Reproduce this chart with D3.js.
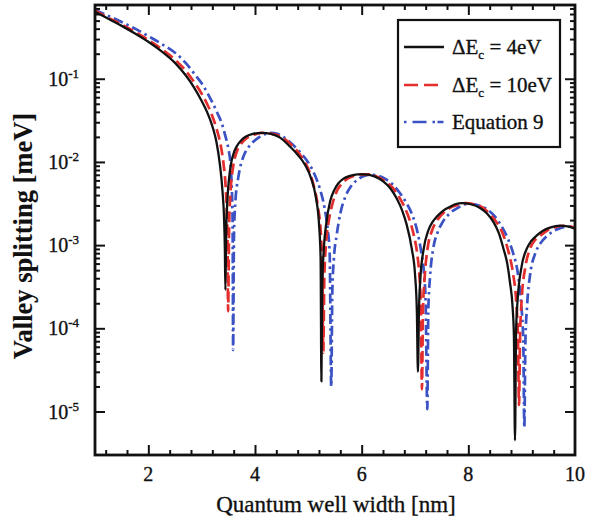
<!DOCTYPE html>
<html>
<head>
<meta charset="utf-8">
<script src="https://cdn.jsdelivr.net/npm/d3@7"></script>
<style>
  html, body { margin: 0; padding: 0; background: #fff; }
  svg { display: block; }
  text { font-family: "Liberation Serif", "Times New Roman", serif; fill: #111; stroke: #111; stroke-width: 0.35px; }
</style>
</head>
<body>
<svg id="chart" width="592" height="521"></svg>
<script>
// Quantum well width [nm] vs valley splitting [meV]
const seriesNames = ["ΔEc = 4eV", "ΔEc = 10eV", "Equation 9"];

const widthDE4 = [1.0,1.25,1.5,1.75,2.0,2.25,2.5,2.7,2.85,3.0,3.1,3.2,3.28,3.34,3.39,3.42,3.435,3.445,
  3.46,3.485,3.51,3.55,3.6,3.66,3.75,3.84,3.96,4.125,4.3,4.47,4.66,4.8,4.94,5.05,5.14,5.2,5.23,5.245,
  5.26,5.29,5.33,5.41,5.48,5.56,5.66,5.78,5.92,6.06,6.24,6.41,6.54,6.66,6.76,6.84,6.94,7.0,7.035,7.055,
  7.075,7.1,7.16,7.25,7.33,7.41,7.53,7.66,7.77,7.875,8.05,8.22,8.35,8.47,8.57,8.66,8.73,8.78,8.83,8.855,8.875,
  8.895,8.92,9.0,9.09,9.18,9.28,9.4,9.53,9.72,9.86,10.0];
const splitDE4 = [0.64,0.525,0.432,0.35,0.278,0.213,0.155,0.11,0.08,0.054,0.04,0.027,0.017,0.0095,0.0045,0.0021,0.0009,0.00029,
  0.0014,0.0037,0.006,0.0095,0.0127,0.0155,0.0184,0.0203,0.0217,0.0224,0.0218,0.0196,0.0152,0.0122,0.0092,0.0064,0.0038,0.0018,0.0007,0.000023,
  0.0003,0.0009,0.0017,0.0034,0.0045,0.0055,0.0063,0.0068,0.0071,0.0071,0.0067,0.0058,0.0048,0.0036,0.0026,0.0018,0.0009,0.00045,0.00016,0.00003,
  0.00017,0.00039,0.00088,0.0015,0.0019,0.0022,0.0026,0.0029,0.00312,0.0032,0.0031,0.0028,0.0024,0.0019,0.0014,0.0009,0.0006,0.00036,0.00018,0.00008,0.0000045,
  0.00009,0.0002,0.00056,0.00089,0.00112,0.0013,0.00149,0.00162,0.00172,0.00168,0.00158];

const widthDE10 = [1.0,1.25,1.5,1.75,2.0,2.25,2.5,2.7,2.875,3.0,3.1,3.19,3.28,3.36,3.41,3.45,3.47,3.485,3.495,
  3.515,3.54,3.59,3.65,3.72,3.83,3.94,4.125,4.3,4.47,4.62,4.78,4.9,5.0,5.1,5.18,5.24,5.26,5.28,
  5.3,5.33,5.38,5.45,5.53,5.62,5.72,5.85,6.0,6.12,6.28,6.45,6.58,6.7,6.8,6.9,6.98,7.04,7.08,7.11,7.13,
  7.15,7.18,7.24,7.32,7.42,7.55,7.7,7.85,7.95,8.1,8.28,8.42,8.55,8.66,8.76,8.84,8.9,8.93,8.95,
  8.97,9.0,9.07,9.15,9.25,9.35,9.48,9.62,9.78,9.9,10.0];
const splitDE10 = [0.66,0.54,0.448,0.365,0.292,0.228,0.17,0.125,0.088,0.066,0.05,0.037,0.025,0.0155,0.0095,0.005,0.0027,0.0011,0.00016,
  0.0017,0.0042,0.0088,0.0128,0.0158,0.019,0.0207,0.0223,0.0219,0.0203,0.0175,0.0138,0.0108,0.0082,0.0052,0.0029,0.0012,0.0006,0.000051,
  0.00042,0.001,0.0019,0.0031,0.0044,0.0054,0.0062,0.0068,0.0071,0.0071,0.0067,0.0058,0.0049,0.0038,0.0029,0.002,0.0013,0.0008,0.00045,0.00018,0.0000185,
  0.00017,0.0004,0.00095,0.0015,0.002,0.0025,0.0029,0.0031,0.0032,0.0031,0.0028,0.0023,0.0018,0.0013,0.0008,0.00045,0.0002,0.00008,0.000012,
  0.00008,0.00022,0.00055,0.00088,0.00115,0.0013,0.0015,0.00164,0.00171,0.00168,0.00162];

const widthEq9 = [1.0,1.25,1.5,1.75,2.0,2.25,2.5,2.7,2.875,3.0,3.19,3.3,3.375,3.44,3.5,3.54,3.565,3.58,3.59,
  3.605,3.63,3.69,3.78,3.86,3.94,4.06,4.18,4.3,4.42,4.55,4.7,4.84,5.0,5.12,5.22,5.3,5.36,5.4,5.43,
  5.45,5.48,5.53,5.6,5.7,5.8,5.92,6.05,6.19,6.32,6.45,6.6,6.72,6.84,6.95,7.05,7.12,7.17,7.2,7.23,
  7.25,7.28,7.34,7.42,7.52,7.65,7.8,7.95,8.05,8.2,8.35,8.5,8.62,8.74,8.84,8.93,8.99,9.03,9.05,
  9.07,9.1,9.16,9.25,9.35,9.48,9.6,9.72,9.84,10.0];
const splitEq9 = [0.67,0.57,0.48,0.40,0.325,0.262,0.205,0.155,0.112,0.088,0.0535,0.038,0.0294,0.021,0.0145,0.0095,0.0048,0.0019,0.000055,
  0.0012,0.0032,0.0067,0.0115,0.0145,0.0168,0.0195,0.0215,0.0224,0.0218,0.0196,0.0163,0.0132,0.0098,0.007,0.0047,0.0029,0.0016,0.0008,0.00002,
  0.00028,0.0007,0.0013,0.0024,0.0039,0.0051,0.0061,0.0068,0.007,0.0068,0.0062,0.0052,0.0042,0.0032,0.0023,0.0014,0.0008,0.00045,0.0002,0.0000107,
  0.00017,0.0004,0.0009,0.0014,0.0019,0.0024,0.0028,0.0031,0.00312,0.003,0.0027,0.0022,0.0017,0.0012,0.0008,0.00045,0.0002,0.00007,0.0000064,
  0.00007,0.00018,0.00045,0.00078,0.00105,0.0013,0.00148,0.0016,0.00167,0.00165];

const xTicks = [2, 4, 6, 8, 10];
const yTickExponents = [-5, -4, -3, -2, -1];

const svg = d3.select("#chart");
const plotLeft = 95, plotRight = 575, plotTop = 5, plotBottom = 455;

const x = d3.scaleLinear().domain([1, 10]).range([plotLeft, plotRight]);
const y = d3.scaleLog().domain([3e-6, 0.77]).range([plotBottom, plotTop]);

svg.append("defs").append("clipPath").attr("id", "plotClip")
  .append("rect").attr("x", plotLeft).attr("y", plotTop)
  .attr("width", plotRight - plotLeft).attr("height", plotBottom - plotTop);

// curves
const styles = [
  { color: "#111111", dash: null, width: 2.3 },
  { color: "#e42d2d", dash: "11,5", width: 2.7 },
  { color: "#3a52c4", dash: "10,4,2.5,4", width: 2.7 }
];
const datasets = [
  d3.zip(widthDE4, splitDE4),
  d3.zip(widthDE10, splitDE10),
  d3.zip(widthEq9, splitEq9)
];
const line = d3.line()
  .x(d => x(d[0]))
  .y(d => y(d[1]))
  .curve(d3.curveMonotoneX);

const plot = svg.append("g").attr("clip-path", "url(#plotClip)");
// Equation 9 first, then ΔEc = 10eV, then ΔEc = 4eV on top
[2, 1, 0].forEach(i => {
  plot.append("path")
    .datum(datasets[i])
    .attr("fill", "none")
    .attr("stroke", styles[i].color)
    .attr("stroke-width", styles[i].width)
    .attr("stroke-dasharray", styles[i].dash)
    .attr("stroke-linejoin", "round")
    .attr("d", line);
});

// ticks (inward, on all four sides)
const xMinor = d3.range(1.2, 10, 0.4).filter(v => Math.abs(v / 2 - Math.round(v / 2)) > 1e-6);
const yMajor = yTickExponents.map(e => Math.pow(10, e));
const yMinor = [];
for (let e = -5; e <= -1; e++) {
  for (let m = 2; m <= 9; m++) {
    const v = m * Math.pow(10, e);
    if (v <= 0.77) yMinor.push(v);
  }
}

function tickAxis(axisFn, scale, values, size, transform) {
  svg.append("g")
    .attr("transform", transform)
    .call(axisFn(scale).tickValues(values).tickSize(size).tickFormat(""))
    .call(g => g.select(".domain").remove())
    .call(g => g.selectAll("line").attr("stroke", "#111").attr("stroke-width", 2));
}
tickAxis(d3.axisBottom, x, xTicks.filter(v => v < 10), -10, `translate(0,${plotBottom})`);
tickAxis(d3.axisBottom, x, xMinor, -5, `translate(0,${plotBottom})`);
tickAxis(d3.axisTop, x, xTicks.filter(v => v < 10), -10, `translate(0,${plotTop})`);
tickAxis(d3.axisTop, x, xMinor, -5, `translate(0,${plotTop})`);
tickAxis(d3.axisLeft, y, yMajor, -10, `translate(${plotLeft},0)`);
tickAxis(d3.axisLeft, y, yMinor, -5, `translate(${plotLeft},0)`);
tickAxis(d3.axisRight, y, yMajor, -10, `translate(${plotRight},0)`);
tickAxis(d3.axisRight, y, yMinor, -5, `translate(${plotRight},0)`);

// frame
svg.append("rect")
  .attr("x", plotLeft).attr("y", plotTop)
  .attr("width", plotRight - plotLeft).attr("height", plotBottom - plotTop)
  .attr("fill", "none").attr("stroke", "#111").attr("stroke-width", 2.8);

// x tick labels
svg.append("g").selectAll("text").data(xTicks).join("text")
  .attr("x", d => x(d))
  .attr("y", 481)
  .attr("text-anchor", "middle")
  .style("font-size", "20px")
  .text(d => d);

// y tick labels: 10 with superscript exponent
const yl = svg.append("g").selectAll("text").data(yTickExponents).join("text")
  .attr("x", 79)
  .attr("y", d => y(Math.pow(10, d)) + 7)
  .attr("text-anchor", "end")
  .style("font-size", "20px");
yl.append("tspan").text("10");
yl.append("tspan").attr("dy", -8).style("font-size", "13px").text(d => "-" + Math.abs(d));

// axis titles
svg.append("text")
  .attr("x", 336)
  .attr("y", 512)
  .attr("text-anchor", "middle")
  .style("font-size", "23px")
  .text("Quantum well width [nm]");

svg.append("text")
  .attr("transform", "translate(32,236) rotate(-90)")
  .attr("text-anchor", "middle")
  .style("font-size", "26.5px")
  .style("font-weight", "bold")
  .style("stroke-width", "0.1px")
  .text("Valley splitting [meV]");

// legend
const legend = svg.append("g");
legend.append("rect")
  .attr("x", 398).attr("y", 20).attr("width", 162).attr("height", 127)
  .attr("fill", "#fff").attr("stroke", "#111").attr("stroke-width", 2.2);
const rowsY = [47, 85, 122];
seriesNames.forEach((name, i) => {
  legend.append("line")
    .attr("x1", 404).attr("x2", 444)
    .attr("y1", rowsY[i]).attr("y2", rowsY[i])
    .attr("stroke", styles[i].color)
    .attr("stroke-width", styles[i].width)
    .attr("stroke-dasharray", i === 1 ? "14,6" : i === 2 ? "2.5,6,14,6,2.5" : null);
  const t = legend.append("text")
    .attr("x", 452).attr("y", rowsY[i] + 7)
    .style("font-size", "21px");
  if (name.startsWith("ΔE")) {
    t.append("tspan").text("ΔE");
    t.append("tspan").attr("dy", 5).style("font-size", "13px").text("c");
    t.append("tspan").attr("dy", -5).text(name.slice(3));
  } else {
    t.text(name);
  }
});
</script>
</body>
</html>
